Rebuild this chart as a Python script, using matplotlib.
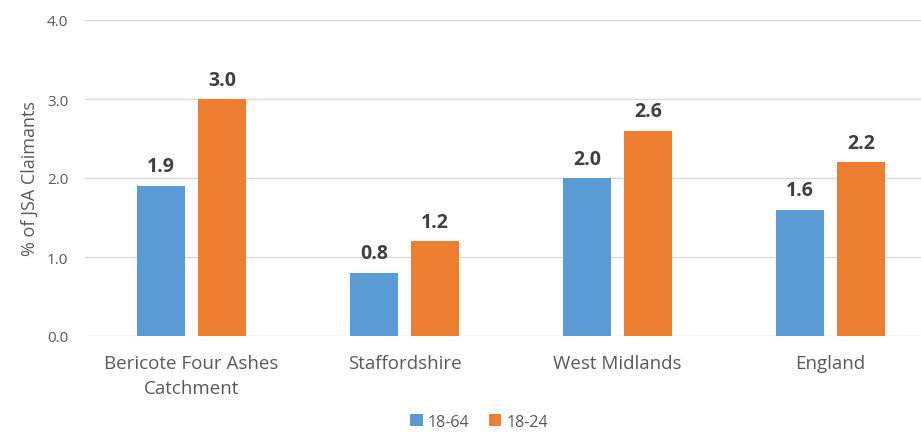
import numpy as np
import matplotlib.pyplot as plt

plt.rcParams['font.family'] = ['Open Sans', 'DejaVu Sans']

areas = ['Bericote Four Ashes\nCatchment', 'Staffordshire', 'West Midlands', 'England']
age_18_64 = [1.9, 0.8, 2.0, 1.6]
age_18_24 = [3.0, 1.2, 2.6, 2.2]

blue = '#5B9BD5'
orange = '#ED7D31'
grey = '#595959'

fig = plt.figure(figsize=(9.21, 4.35), dpi=100)
# axes run a bit past the right edge, as in the original crop
ax = fig.add_axes([85 / 921, 98 / 435, 852 / 921, 316 / 435])

x = np.arange(len(areas))
w = 0.225
off = 0.143
b1 = ax.bar(x - off, age_18_64, w, color=blue, label='18-64')
b2 = ax.bar(x + off, age_18_24, w, color=orange, label='18-24')

for bars in (b1, b2):
    for b in bars:
        ax.text(b.get_x() + b.get_width() / 2, b.get_height() + 0.12,
                f'{b.get_height():.1f}', ha='center', va='bottom',
                fontsize=14, fontweight='bold', color='#404040')

ax.set_xlim(-0.5, len(areas) - 0.5)
ax.set_ylim(0, 4)
ax.set_yticks([0, 1, 2, 3, 4])
ax.set_yticklabels([f'{v:.1f}' for v in [0, 1, 2, 3, 4]])
ax.set_xticks(x)
ax.set_xticklabels(areas, fontsize=13.5, color=grey, linespacing=1.5)
ax.tick_params(axis='y', labelsize=11, colors=grey, length=0, pad=12)
ax.tick_params(axis='x', length=0, pad=13)
ax.grid(axis='y', color='#D9D9D9', lw=1)
ax.set_axisbelow(True)
for s in ax.spines.values():
    s.set_visible(False)
ax.set_ylabel('% of JSA Claimants', fontsize=13, color=grey, labelpad=6)

fig.legend(loc='lower center', bbox_to_anchor=(0.52, -0.012), ncol=2, frameon=False,
           fontsize=11.5, handlelength=0.8, handleheight=0.8, columnspacing=1.2,
           handletextpad=0.3, labelcolor=grey, borderpad=0.1)

fig.savefig('out.png', dpi=100)
